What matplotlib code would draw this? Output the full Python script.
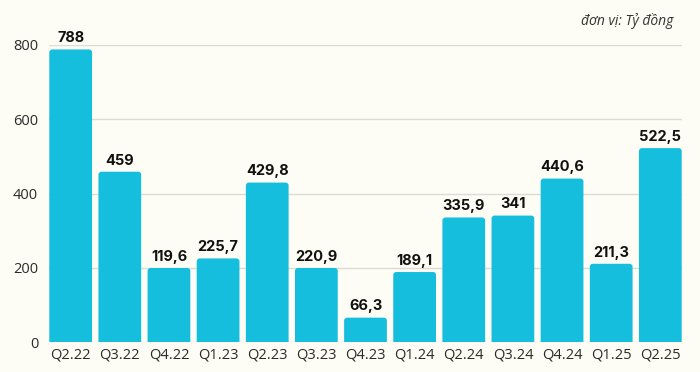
import matplotlib
matplotlib.use("Agg")
import matplotlib.pyplot as plt
from matplotlib.patches import FancyBboxPatch

categories = ["Q2.22", "Q3.22", "Q4.22", "Q1.23", "Q2.23", "Q3.23", "Q4.23",
              "Q1.24", "Q2.24", "Q3.24", "Q4.24", "Q1.25", "Q2.25"]
bar_heights = [788, 459, 200, 225.7, 429.8, 200, 66.3,
               189.1, 335.9, 341, 440.6, 211.3, 522.5]
value_labels = ["788", "459", "119,6", "225,7", "429,8", "220,9", "66,3",
                "189,1", "335,9", "341", "440,6", "211,3", "522,5"]
yticks = [0, 200, 400, 600, 800]
unit_text = "đơn vị: Tỷ đồng"

BG = "#FDFDF5"
BAR = "#14BEDC"

fig = plt.figure(figsize=(7, 3.72), dpi=100, facecolor=BG)
L, R = 49.3 / 700, 681.7 / 700
B = 1 - 342.3 / 372
T = 1 - 45 / 372
ax = fig.add_axes([L, B, R - L, T - B], facecolor=BG)

full_w = 0.87
x = list(range(len(categories)))
bars = ax.bar(x, bar_heights, width=full_w, color=BAR, zorder=3)

ax.set_xlim(-full_w / 2, len(categories) - 1 + full_w / 2)
ax.set_ylim(0, 800)

# replace rectangles by rounded-top boxes of identical geometry
fig.canvas.draw()
px_per_x = ax.transData.transform((1, 0))[0] - ax.transData.transform((0, 0))[0]
px_per_y = ax.transData.transform((0, 1))[1] - ax.transData.transform((0, 0))[1]
aspect = px_per_x / px_per_y
r_px = 3.0
for rect in bars.patches:
    bx, by, bw, bh = rect.get_x(), rect.get_y(), rect.get_width(), rect.get_height()
    ext = 10 / px_per_y
    fb = FancyBboxPatch((bx, by - ext), bw, bh + ext,
                        boxstyle=f"round,pad=0,rounding_size={r_px / px_per_x}",
                        mutation_aspect=aspect, facecolor=BAR, edgecolor="none",
                        zorder=3)
    ax.add_patch(fb)
    rect.set_visible(False)

ax.set_yticks(yticks)
ax.set_yticklabels([str(v) for v in yticks], fontfamily="Open Sans",
                   fontsize=10.5, color="#2a2a2a")
ax.set_xticks(x)
ax.set_xticklabels(categories, fontfamily="Open Sans", fontsize=10.5,
                   color="#2a2a2a")
ax.tick_params(axis="both", length=0)
ax.tick_params(axis="y", pad=8)
ax.tick_params(axis="x", pad=4)
for s in ax.spines.values():
    s.set_visible(False)
ax.yaxis.grid(True, color="#DCDCD6", linewidth=1.0, zorder=0)
ax.set_axisbelow(True)

for xi, h, lab in zip(x, bar_heights, value_labels):
    ax.annotate(lab, (xi, h), xytext=(0, 3), textcoords="offset points",
                ha="center", va="bottom", fontfamily="Inter",
                fontweight="bold", fontsize=10.5, color="#111111",
                annotation_clip=False)

fig.text(673 / 700, 1 - 21 / 372, unit_text, ha="right", va="center",
         fontfamily="Open Sans", fontstyle="italic", fontsize=10,
         color="#333333")

fig.savefig("out.png", dpi=100, facecolor=BG)
